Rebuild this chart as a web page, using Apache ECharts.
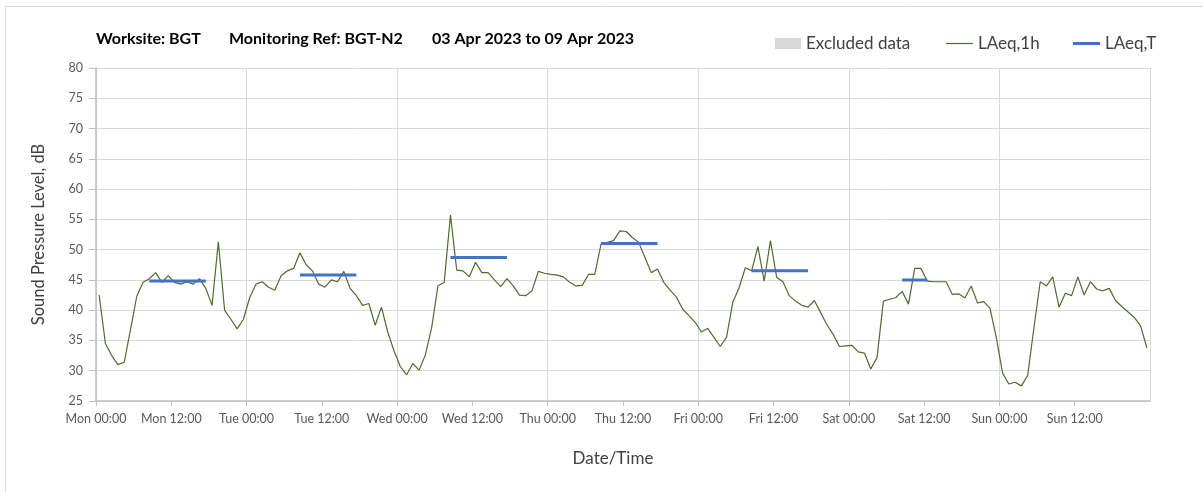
<!DOCTYPE html>
<html>
<head>
<meta charset="utf-8">
<script src="https://cdn.jsdelivr.net/npm/echarts@6/dist/echarts.min.js"></script>
<style>
  html, body { margin: 0; padding: 0; background: #fff; }
  #chart { width: 1203px; height: 492px; }
</style>
</head>
<body>
<div id="chart"></div>
<script>
// hourly LAeq,1h values, Mon 00:00 .. Sun 23:00 (one per hour)
const laeq1h = [
  42.5, 34.5, 32.5, 31.0, 31.4, 36.8, 42.3, 44.6, 45.2, 46.2, 44.6, 45.7,
  44.6, 44.3, 44.7, 44.3, 45.2, 43.6, 40.8, 51.3, 40.0, 38.5, 36.9, 38.5,
  42.1, 44.3, 44.7, 43.8, 43.3, 45.7, 46.5, 46.9, 49.5, 47.5, 46.5, 44.3,
  43.8, 45.0, 44.7, 46.4, 43.6, 42.4, 40.8, 41.1, 37.5, 40.5, 36.4, 33.3,
  30.7, 29.3, 31.2, 30.1, 32.6, 37.1, 44.0, 44.6, 55.7, 46.6, 46.5, 45.5,
  47.9, 46.2, 46.2, 45.0, 43.9, 45.2, 44.0, 42.5, 42.4, 43.2, 46.4, 46.1,
  45.9, 45.8, 45.5, 44.6, 44.0, 44.1, 45.9, 45.9, 50.9, 51.2, 51.5, 53.1,
  53.0, 52.0, 51.2, 48.7, 46.2, 46.8, 44.6, 43.3, 42.2, 40.2, 39.1, 38.0,
  36.4, 37.0, 35.5, 34.0, 35.5, 41.3, 43.7, 47.0, 46.5, 50.5, 44.8, 51.5,
  45.4, 44.7, 42.4, 41.5, 40.8, 40.5, 41.6, 39.6, 37.6, 36.0, 34.0, 34.1,
  34.2, 33.1, 32.9, 30.3, 32.2, 41.5, 41.8, 42.1, 43.1, 41.0, 46.9, 46.9,
  44.8, 44.7, 44.7, 44.7, 42.6, 42.7, 42.0, 44.0, 41.2, 41.4, 40.3, 35.5,
  29.6, 27.8, 28.1, 27.5, 29.2, 37.1, 44.7, 44.0, 45.5, 40.5, 42.8, 42.4,
  45.5, 42.5, 44.7, 43.5, 43.2, 43.6, 41.6, 40.6, 39.7, 38.8, 37.4, 33.8
];

// LAeq,T periods (hours from Mon 00:00) and levels
const laeqTStart = [8.5, 32.5, 56.5, 80.5, 104.5, 128.5];
const laeqTEnd   = [17.5, 41.5, 65.5, 89.5, 113.5, 132.5];
const laeqTValue = [44.8, 45.8, 48.7, 51.0, 46.5, 45.0];

const dayNames = ['Mon', 'Tue', 'Wed', 'Thu', 'Fri', 'Sat', 'Sun'];

const FONT = 'Lato';

let hourlyData = laeq1h.map((v, i) => [i + 0.5, v]);
let periodData = [];
laeqTValue.forEach((v, k) => {
  periodData.push([laeqTStart[k], v]);
  periodData.push([laeqTEnd[k], v]);
  periodData.push([laeqTEnd[k], '-']);
});

let chart = echarts.init(document.getElementById('chart'));

let titleText = { fontFamily: FONT, fontSize: 16, fontWeight: 'bold', color: '#000' };
let legendText = { fontFamily: FONT, fontSize: 17, color: '#404040' };

chart.setOption({
  animation: false,
  textStyle: { fontFamily: FONT },
  title: [
    { text: 'Worksite: BGT', left: 96, top: 31, padding: 0, textStyle: titleText },
    { text: 'Monitoring Ref: BGT-N2', left: 229, top: 31, padding: 0, textStyle: titleText },
    { text: '03 Apr 2023 to 09 Apr 2023', left: 432, top: 31, padding: 0, textStyle: titleText }
  ],
  legend: [
    { data: [{ name: 'Excluded data', icon: 'rect' }], left: 770, top: 30, itemWidth: 26, itemHeight: 11, textStyle: legendText },
    { data: [{ name: 'LAeq,1h', icon: 'rect' }], left: 941, top: 30, itemWidth: 27, itemHeight: 1.2, textStyle: legendText },
    { data: [{ name: 'LAeq,T', icon: 'rect' }], left: 1068, top: 30, itemWidth: 27, itemHeight: 3, textStyle: legendText }
  ],
  graphic: [
    { type: 'rect', silent: true, shape: { x: 5.5, y: 6.5, width: 1220, height: 520 }, style: { fill: 'none', stroke: '#d9d9d9', lineWidth: 1 } },
    { type: 'text', silent: true, x: 613, y: 459, style: { text: 'Date/Time', fontFamily: FONT, fontSize: 17, fill: '#404040', align: 'center', verticalAlign: 'middle' } }
  ],
  grid: { left: 96, right: 53, top: 68, bottom: 91 },
  xAxis: [
    {
      type: 'value', min: 0, max: 168, interval: 12,
      axisLine: { lineStyle: { color: '#bfbfbf', width: 1.5 } },
      axisTick: { show: true, length: 5, lineStyle: { color: '#bfbfbf' } },
      splitLine: { show: false },
      axisLabel: {
        fontFamily: FONT, fontSize: 12.5, color: '#595959', margin: 11, showMaxLabel: false,
        formatter: v => v >= 168 ? '' : dayNames[Math.floor(v / 24)] + ' ' + (v % 24 === 0 ? '00:00' : '12:00')
      }
    },
    {
      type: 'value', min: 0, max: 168, interval: 24, position: 'bottom',
      axisLine: { show: false }, axisTick: { show: false }, axisLabel: { show: false },
      splitLine: { show: true, lineStyle: { color: '#d9d9d9', width: 1 } }
    }
  ],
  yAxis: {
    type: 'value', min: 25, max: 80, interval: 5,
    name: 'Sound Pressure Level, dB', nameLocation: 'middle', nameGap: 49,
    nameTextStyle: { fontFamily: FONT, fontSize: 16.5, color: '#404040' },
    axisLine: { show: true, lineStyle: { color: '#bfbfbf', width: 1.5 } },
    axisTick: { show: true, length: 7, lineStyle: { color: '#bfbfbf' } },
    splitLine: { lineStyle: { color: '#d9d9d9', width: 1 } },
    axisLabel: { fontFamily: FONT, fontSize: 12.5, color: '#595959', margin: 13 }
  },
  series: [
    {
      name: 'Excluded data', type: 'bar', data: [],
      itemStyle: { color: '#d9d9d9' }
    },
    {
      name: 'LAeq,1h', type: 'line', data: hourlyData,
      symbol: 'none', color: '#4f6b2f',
      lineStyle: { color: '#4f6b2f', width: 1.2 }
    },
    {
      name: 'LAeq,T', type: 'line', data: periodData,
      symbol: 'none', connectNulls: false, color: '#4472c4',
      lineStyle: { color: '#4472c4', width: 3 }
    }
  ]
});
</script>
</body>
</html>
